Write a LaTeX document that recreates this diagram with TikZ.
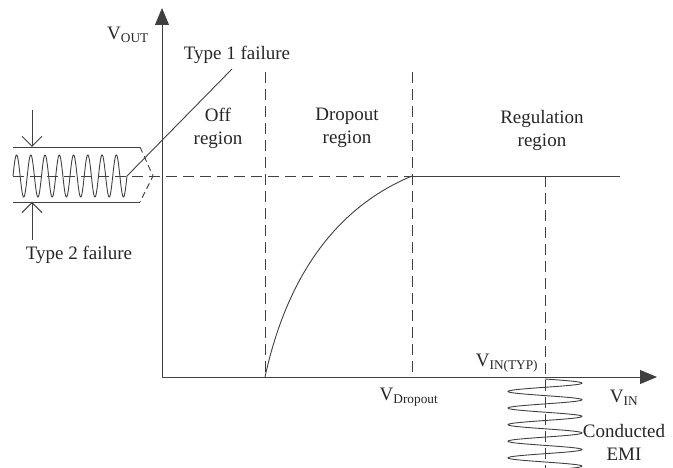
\documentclass[tikz,border=0pt]{standalone}
\usepackage{fontspec}
\setmainfont{Liberation Serif}
\usetikzlibrary{arrows.meta}

\begin{document}
\begin{tikzpicture}[x=1pt,y=-1pt,line width=0.9pt,
  ink/.style={black!75},
  guide/.style={ink,dash pattern=on 11pt off 6pt},
  axisarrow/.style={ink,-{Triangle[length=17pt,width=14pt]}},
  gaparrow/.style={ink,-{Straight Barb[length=10pt,width=20pt]}},
  lbl/.style={text=black!85,font=\fontsize{19}{23}\selectfont,inner sep=0pt,align=center}]

  \useasboundingbox (0,0) rectangle (673,468);

  % --- Axes ---
  \coordinate (origin) at (162,377);
  \coordinate (ytip)   at (162,8);
  \coordinate (xtip)   at (657,377);
  \draw[axisarrow] (origin) -- (ytip);
  \draw[axisarrow] (origin) -- (xtip);

  % --- Region boundaries and output level ---
  \coordinate (offtop)  at (265,72);
  \coordinate (offbot)  at (265,377);
  \coordinate (droptop) at (412,72);
  \coordinate (dropbot) at (412,377);
  \coordinate (knee)    at (412,176);
  \coordinate (regend)  at (620,176);
  \coordinate (typtop)  at (545,176);
  \coordinate (typbot)  at (545,470);
  \coordinate (levelin) at (13,176);

  \draw[guide] (offtop) -- (offbot);
  \draw[guide] (droptop) -- (dropbot);
  \draw[guide] (typtop) -- (typbot);
  \draw[guide] (levelin) -- (knee);
  \draw[ink] (knee) -- (regend);

  % --- Dropout curve ---
  \draw[ink] (offbot) .. controls (285,285) and (330,210) .. (knee);

  % --- Ripple on the output (type 2) ---
  \draw[ink] plot[variable=\t,domain=0:2880,samples=320,smooth]
    ({13+\t/360*14.25},{176-21*sin(\t)});
  \draw[ink] (13,147) -- (140,147);
  \draw[ink] (13,202) -- (140,202);
  \draw[guide,dash pattern=on 6pt off 4pt] (140,147) -- (153,176) -- (140,202);
  \draw[gaparrow] (32,110) -- (32,147);
  \draw[gaparrow] (32,240) -- (32,202);

  % --- Type 1 pointer ---
  \coordinate (rippleend) at (127,176);
  \coordinate (type1foot) at (232,69);
  \draw[ink] (rippleend) -- (type1foot);

  % --- Conducted EMI on the input ---
  \begin{scope}
    \clip (0,0) rectangle (673,468);
    \draw[ink] plot[variable=\t,domain=0:1980,samples=300,smooth]
      ({545+37*sin(\t)},{379+\t/360*16.6});
  \end{scope}

  % --- Labels ---
  \node[lbl] (vout)    at (128,35)  {V\textsubscript{OUT}};
  \node[lbl] (type1)   at (237,55)  {Type 1 failure};
  \node[lbl] (offreg)  at (218,128) {Off\\region};
  \node[lbl] (dropreg) at (347,128) {Dropout\\region};
  \node[lbl] (regreg)  at (542,130) {Regulation\\region};
  \node[lbl] (type2)   at (79,255)  {Type 2 failure};
  \node[lbl] (vdrop)   at (409,397) {V\textsubscript{Dropout}};
  \node[lbl] (vtyp)    at (507,363) {V\textsubscript{IN(TYP)}};
  \node[lbl] (vin)     at (624,398) {V\textsubscript{IN}};
  \node[lbl] (emi)     at (624,442) {Conducted\\EMI};

\end{tikzpicture}
\end{document}
